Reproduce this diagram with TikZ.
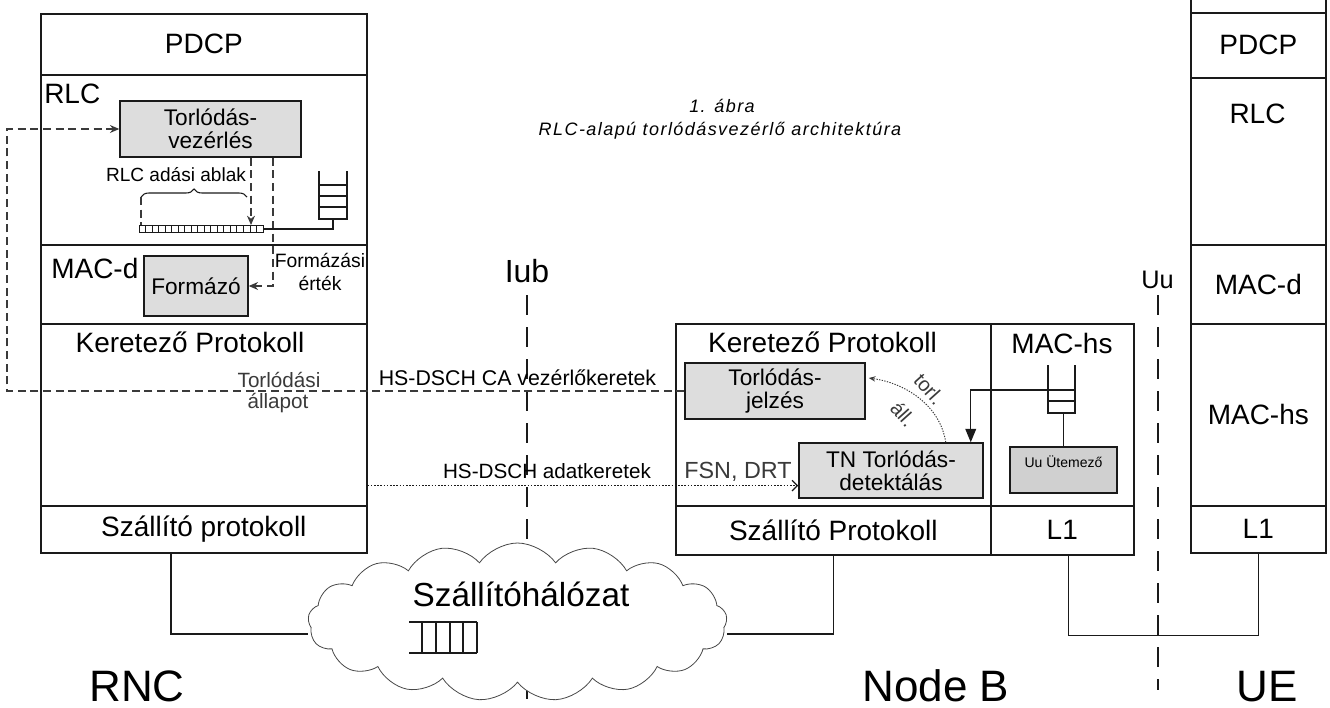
\documentclass[tikz,border=0pt]{standalone}
\usepackage{fontspec}
\setmainfont{Liberation Sans}
\newfontfamily\titlefont[LetterSpace=8]{Liberation Sans}
\usetikzlibrary{arrows.meta,shapes.symbols,decorations.pathreplacing,calc}
\definecolor{boxgray}{HTML}{DDDDDD}
\definecolor{uugray}{HTML}{D0D0D0}
\definecolor{ink}{HTML}{1A1A1A}
\definecolor{txtgray}{HTML}{3A3A3A}
\newcommand{\fsz}[2]{\fontsize{#1}{#2}\selectfont}
\begin{document}
\begin{tikzpicture}[x=0.75pt,y=-0.75pt,
  lay/.style={draw=ink, line width=1.2pt, anchor=north west, inner sep=0pt, font=\fsz{21}{25}},
  sz/.style 2 args={minimum width=#1*0.75pt, minimum height=#2*0.75pt},
  gbox/.style={draw=ink, fill=boxgray, line width=1.1pt, inner sep=0pt, align=center, font=\fsz{17}{17.5}},
  txt/.style={inner sep=0pt, anchor=base},
  wire/.style={draw=ink, line width=1pt},
  ctl/.style={draw=txtgray, line width=0.9pt, dash pattern=on 6pt off 3.5pt},
  dat/.style={draw=ink, line width=0.9pt, dash pattern=on 1.2pt off 1.2pt},
  longdash/.style={draw=ink, line width=1.1pt, dash pattern=on 15pt off 9pt},
  dtip/.style={-{Stealth[length=7pt,width=6pt]}}
]
\useasboundingbox (0,0) rectangle (1330,707);

% interface lines
\draw[longdash] (527,295) -- (527,705);
\draw[longdash] (1158,295) -- (1158,690);
\node[txt, font=\fsz{24}{28}] (iub) at (527,282) {Iub};
\node[txt, font=\fsz{19}{22}] (uu) at (1157.5,288) {Uu};

% title
\node[txt, font=\titlefont\itshape\fsz{13.5}{16}] (t1) at (722,112) {1. ábra};
\node[txt, font=\titlefont\itshape\fsz{13.5}{16}] (t2) at (720,135) {RLC-alapú torlódásvezérlő architektúra};

% ---------------- RNC ----------------
\node[lay, sz={326}{61}] (pdcpR) at (40,13) {PDCP};
\node[lay, sz={326}{170}] (rlcR) at (40,74) {};
\node[lay, sz={326}{79}] (macdR) at (40,244) {};
\node[lay, sz={326}{182}] (fpR) at (40,323) {};
\node[lay, sz={326}{47}] (tpR) at (40,505) {Szállító protokoll};
\node[txt, anchor=base west, font=\fsz{21}{25}] (rlcRt) at (44,103) {RLC};
\node[txt, anchor=base west, font=\fsz{21}{25}] (macdRt) at (51,278) {MAC-d};
\node[txt, font=\fsz{21}{25}] (fpRt) at (190,352) {Keretező Protokoll};

\node[gbox, sz={181}{56}] (tv) at (210.5,129) {Torlódás-\\vezérlés};
\node[gbox, sz={104}{60}] (form) at (196,286) {Formázó};

\node[txt, font=\fsz{14.3}{17}] (ablak) at (176,181) {RLC adási ablak};
\node[txt, font=\fsz{14.5}{17}] (fe1) at (320,267) {Formázási};
\node[txt, font=\fsz{14.5}{17}] (fe2) at (320,290) {érték};
\node[txt, font=\fsz{15.5}{18}, text=txtgray] (ta1) at (279,387) {Torlódási};
\node[txt, font=\fsz{15.5}{18}, text=txtgray] (ta2) at (278,408) {állapot};

% transmit window
\node[draw=ink, line width=0.8pt, anchor=north west, inner sep=0pt, sz={124}{7}] (win) at (139,225) {};
\foreach \i in {1,...,18} \draw[ink, line width=0.7pt] (139+\i*6.53,225) -- ++(0,7);
\draw[decorate, decoration={brace, amplitude=6pt}, ink, line width=0.8pt] (141,197) -- (247,197);
\draw[ctl] (141,197) -- (141,225);
\coordinate (wa) at (251,225);
\draw[ctl, dtip] (tv.south -| wa) -- (wa);
\coordinate (fa) at (273,286);
\draw[ctl, dtip] (tv.south -| fa) |- (form.east);

% RLC queue
\draw[ink, line width=1pt] (319,171) -- (319,219) -- (347,219) -- (347,171);
\foreach \y in {185,196,207} \draw[ink, line width=1pt] (319,\y) -- (347,\y);
\coordinate (q1b) at (333,219);
\draw[wire] (q1b) |- (win.east);

% ---------------- Node B ----------------
\node[lay, sz={315}{182}] (fpN) at (675,323) {};
\node[lay, sz={315}{49}] (tpN) at (675,505) {Szállító Protokoll};
\node[lay, sz={143}{182}] (machsN) at (990,323) {};
\node[lay, sz={143}{49}] (l1N) at (990,505) {L1};
\node[txt, font=\fsz{21}{25}] (fpNt) at (822.5,352) {Keretező Protokoll};
\node[txt, font=\fsz{21}{25}] (machsNt) at (1062,353) {MAC-hs};

\node[gbox, sz={180}{56}] (tj) at (775,391) {Torlódás-\\jelzés};
\node[gbox, sz={184}{55}] (tn) at (891,470.5) {TN Torlódás-\\detektálás};
\node[draw=ink, fill=uugray, line width=1.8pt, inner sep=0pt, sz={107}{46}] (uus) at (1063.5,470) {};
\node[txt, font=\fsz{10.5}{12}] (uust) at (1063.5,467) {Uu Ütemező};

% MAC-hs queue
\draw[ink, line width=1pt] (1048,365) -- (1048,413) -- (1075,413) -- (1075,365);
\foreach \y in {390,401} \draw[ink, line width=1pt] (1048,\y) -- (1075,\y);
\coordinate (q2) at (1048,390);
\draw[wire, -{Triangle[length=10pt,width=8pt]}] (q2) -| ($(tn.north east)+(-13,0)$);
\draw[wire] (uus.north) -- ++(0,-34);

% congestion status curved arrow
\draw[txtgray, line width=0.7pt, dash pattern=on 1pt off 1pt, -{Stealth[length=5pt,width=4pt]}]
  ($(tn.north east)+(-38,0)$) .. controls (940,405) and (905,383) .. ($(tj.east)+(3,-13)$);
\node[rotate=-48, inner sep=0pt, font=\fsz{15}{18}, text=txtgray] (torl) at (929,389) {torl.};
\node[rotate=-48, inner sep=0pt, font=\fsz{15}{18}, text=txtgray] (all) at (903,414) {áll.};

% ---------------- UE ----------------
\node[lay, sz={135}{30}] (topU) at (1190,-18) {};
\node[lay, sz={135}{65}] (pdcpU) at (1190,12) {PDCP};
\node[lay, sz={135}{167}] (rlcU) at (1190,77) {};
\node[lay, sz={135}{79}] (macdU) at (1190,244) {MAC-d};
\node[lay, sz={135}{182}] (machsU) at (1190,323) {MAC-hs};
\node[lay, sz={135}{47}] (l1U) at (1190,505) {L1};
\node[txt, font=\fsz{21}{25}] (rlcUt) at (1257.5,123) {RLC};

% ---------------- connectors ----------------
\coordinate (lc) at (7,0);
\draw[ctl, dtip] (tj.west) -- (tj.west -| lc) |- (tv.west);
\node[txt, font=\fsz{16}{19}] (cal) at (517.5,385) {HS-DSCH CA vezérlőkeretek};

\coordinate (ds) at ($(fpR.south east)+(0,-21)$);
\draw[dat, -{Straight Barb[length=4pt,width=8pt]}] (ds) -- (ds -| tn.west);
\node[txt, font=\fsz{15.5}{18}] (dal) at (547,478) {HS-DSCH adatkeretek};
\node[txt, font=\fsz{17.5}{20}, text=txtgray] (fsn) at (738,478) {FSN, DRT};

% transport network
\node[cloud, cloud puffs=17, cloud puff arc=110, aspect=2.6, draw=ink!80, line width=0.6pt, fill=white,
      minimum width=419*0.75pt, minimum height=158*0.75pt, inner sep=0pt] (cloud) at (517.5,622) {};
\node[txt, font=\fsz{25}{30}] (tnt) at (521,606) {Szállítóhálózat};
\draw[ink, line width=1pt] (409,622) -- (477,622) (409,653) -- (477,653);
\foreach \x in {422,436,450,463,477} \draw[ink, line width=1pt] (\x,622) -- (\x,653);

\coordinate (rncx) at (171,0);
\draw[wire] (tpR.south -| rncx) |- ($(cloud.west)+(0,12)$);
\draw[wire] (tpN.south) |- ($(cloud.east)+(0,12)$);
\draw[wire] ($(l1N.south)+(6,0)$) -- ++(0,80) -| (l1U.south);

% bottom labels
\node[txt, font=\fsz{33}{38}] (rnc) at (137,701) {RNC};
\node[txt, font=\fsz{33}{38}] (nodeb) at (936,701) {Node B};
\node[txt, font=\fsz{33}{38}] (ue) at (1267,701) {UE};
\end{tikzpicture}
\end{document}
